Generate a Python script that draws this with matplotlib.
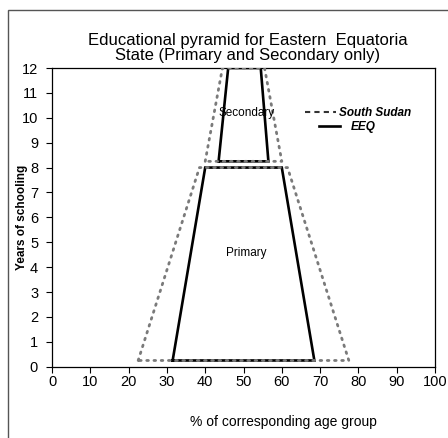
import matplotlib
matplotlib.use("Agg")
import matplotlib.pyplot as plt
from matplotlib.lines import Line2D
from matplotlib.patches import Rectangle

plt.rcParams['font.family'] = ['Liberation Sans', 'DejaVu Sans']

# Outline of each education level: x = % of age group, y = years of schooling
eeq_primary_x = [31.5, 40.0, 60.0, 68.5, 31.5]
eeq_primary_y = [0.25, 8.0, 8.0, 0.25, 0.25]
eeq_secondary_x = [43.5, 46.0, 54.5, 56.5, 43.5]
eeq_secondary_y = [8.25, 12.0, 12.0, 8.25, 8.25]

ss_primary_x = [22.5, 38.5, 61.5, 77.5, 22.5]
ss_primary_y = [0.25, 8.0, 8.0, 0.25, 0.25]
ss_secondary_x = [40.0, 44.5, 55.5, 60.0, 40.0]
ss_secondary_y = [8.25, 12.0, 12.0, 8.25, 8.25]

x_ticks = list(range(0, 101, 10))
y_ticks = list(range(0, 13))

W, H = 448, 438
fig = plt.figure(figsize=(W / 100, H / 100), dpi=100)
ax = fig.add_axes([52 / W, 1 - 366.7 / H, (435 - 52) / W, (366.7 - 68) / H])

# Outer chart border
fig.patches.append(Rectangle((8 / W, -0.05), 1.0, 1 - 10 / H + 0.05,
                             transform=fig.transFigure, fill=False,
                             edgecolor='#555555', linewidth=1.0))

eeq_style = dict(color='black', linewidth=1.9, solid_joinstyle='miter', zorder=2)
ss_style = dict(color='#7a7a7a', linewidth=2.0, linestyle=(0, (0.6, 2.0)),
                dash_capstyle='round', zorder=3)

ax.plot(eeq_primary_x, eeq_primary_y, **eeq_style)
ax.plot(eeq_secondary_x, eeq_secondary_y, **eeq_style)
ax.plot(ss_primary_x, ss_primary_y, **ss_style)
ax.plot(ss_secondary_x, ss_secondary_y, **ss_style)

ax.text(50.8, 10.2, 'Secondary', ha='center', va='center', fontsize=8.5)
ax.text(50.8, 4.55, 'Primary', ha='center', va='center', fontsize=8.5)

ax.set_xlim(0, 100)
ax.set_ylim(0, 12)
ax.set_xticks(x_ticks)
ax.set_yticks(y_ticks)
ax.tick_params(direction='out', length=4, width=0.8, labelsize=10.5)
ax.tick_params(axis='x', pad=2)
ax.tick_params(axis='y', pad=6)
for s in ax.spines.values():
    s.set_linewidth(0.9)

ax.set_xlabel('% of corresponding age group', fontsize=10)
ax.xaxis.set_label_coords((283 - 52) / 383, (366.7 - 422) / 298.7)
ax.xaxis.label.set_va('center')
ax.set_ylabel('Years of schooling', fontsize=8.5, fontweight='bold')
ax.yaxis.set_label_coords((22 - 52) / 383, 0.5)
ax.yaxis.label.set_va('center')

fig.text(248 / W, 1 - 48 / H,
         'Educational pyramid for Eastern  Equatoria\nState (Primary and Secondary only)',
         ha='center', va='center', fontsize=12, linespacing=1.0)

legend_font = dict(size=8.5, weight='bold', style='italic')
ss_handle = Line2D([], [], color='#333333', linewidth=1.5, linestyle=(0, (2.5, 2)))
eeq_handle = Line2D([], [], color='black', linewidth=1.9)

leg_ss = ax.legend([ss_handle], ['South Sudan'], loc='center left',
                   bbox_to_anchor=((305 - 52) / 383, (366.7 - 113) / 298.7),
                   frameon=False, prop=legend_font, handlelength=2.6,
                   handletextpad=0.3, borderpad=0, borderaxespad=0)
ax.add_artist(leg_ss)
ax.legend([eeq_handle], ['EEQ'], loc='center left',
          bbox_to_anchor=((319 - 52) / 383, (366.7 - 127) / 298.7),
          frameon=False, prop=legend_font, handlelength=1.8,
          handletextpad=0.9, borderpad=0, borderaxespad=0)

fig.savefig('out.png', dpi=100)
